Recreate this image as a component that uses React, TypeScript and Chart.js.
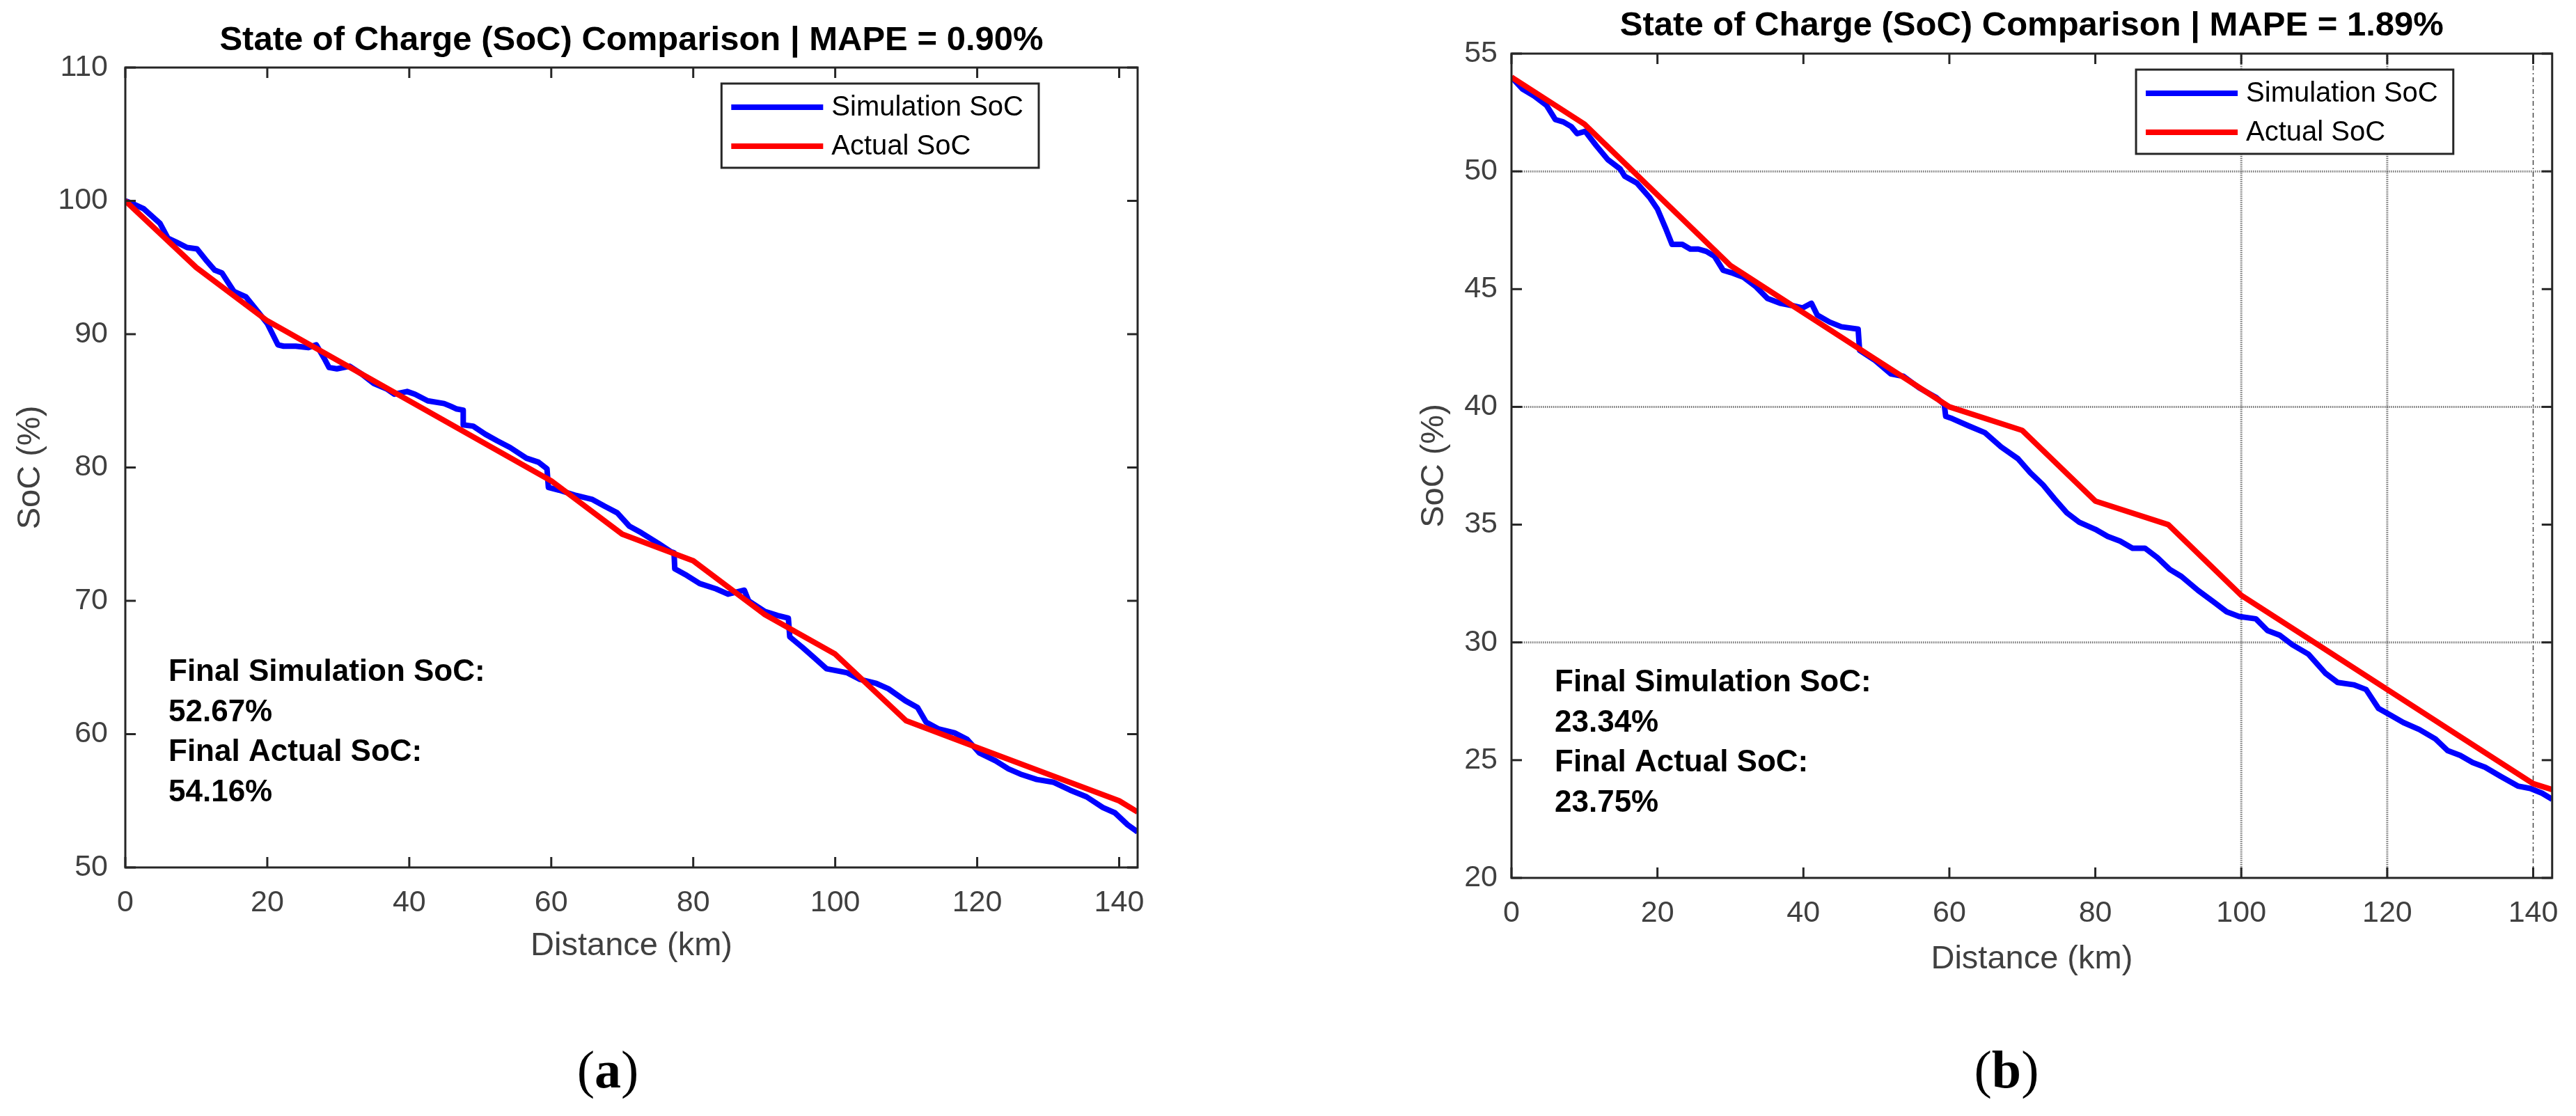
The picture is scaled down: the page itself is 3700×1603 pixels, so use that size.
import { useEffect, useRef } from 'react';
import { Chart, registerables } from 'chart.js';

Chart.register(...registerables);

const FONT = '"Liberation Sans", Arial, Helvetica, sans-serif';
const W = 1850;
const H = 1603;

// ---- (a) ----
const simDistA = [
  0, 1, 2.6, 4.9, 6, 7.2, 8.7, 10.1, 11.3, 12.6, 13.6, 15.3, 17, 18.8, 20, 21.5, 22.3, 24, 25.8, 26.9,
  28, 28.7, 29.8, 31.6, 33.3, 35, 36.8, 37.9, 39.7, 40.8, 42.6, 44.9, 45.8, 46.6, 47.6, 47.6, 49, 50.7,
  52.4, 54.2, 56.5, 58.2, 59.4, 59.6, 61.1, 63.5, 65.8, 67.5, 69.3, 71, 72.7, 75.1, 76.8, 77.3, 77.4,
  79.1, 80.9, 83.2, 84.9, 87.2, 87.8, 90.1, 91.9, 93.4, 93.6, 95.4, 97.1, 98.8, 101.7, 103.5, 105.8,
  107.5, 109.9, 111.6, 112.8, 114.5, 116.8, 118.6, 120.3, 122.6, 124.4, 126.1, 128.4, 130.7, 133.1,
  135.4, 137.7, 139.4, 141.2, 142.6,
];
const simSocA = [
  100, 99.8, 99.4, 98.3, 97.2, 96.9, 96.5, 96.4, 95.6, 94.8, 94.6, 93.2, 92.8, 91.6, 90.8, 89.2, 89.1,
  89.1, 89, 89.2, 88.2, 87.5, 87.4, 87.6, 87, 86.3, 85.9, 85.5, 85.7, 85.5, 85, 84.8, 84.6, 84.4, 84.3,
  83.2, 83.1, 82.5, 82, 81.5, 80.7, 80.4, 79.9, 78.5, 78.3, 77.9, 77.6, 77.1, 76.6, 75.6, 75.1, 74.3,
  73.7, 73.6, 72.4, 71.9, 71.3, 70.9, 70.5, 70.8, 70, 69.2, 68.9, 68.7, 67.3, 66.5, 65.7, 64.9, 64.6,
  64.1, 63.8, 63.4, 62.5, 62, 60.9, 60.4, 60.1, 59.6, 58.6, 58, 57.4, 57, 56.6, 56.4, 55.8, 55.3, 54.5,
  54.1, 53.2, 52.67,
];
const actDistA = [0, 10, 20, 30, 40, 50, 60, 70, 80, 90, 100, 110, 120, 130, 140, 142.6];
const actSocA = [100, 95, 91, 88, 85, 82, 79, 75, 73, 69, 66, 61, 59, 57, 55, 54.16];
const mapeA = '0.90';
const yTicksA = [50, 60, 70, 80, 90, 100, 110];

// ---- (b) ----
const simDistB = [
  0, 1.5, 3.1, 4.8, 6, 7.1, 8.2, 9, 10.1, 11.6, 13.2, 14.9, 15.5, 17.2, 18.9, 20, 21.1, 22, 23.4, 24.5,
  25.6, 26.7, 27.8, 29, 30.1, 31.8, 33.5, 35.1, 36.8, 38.5, 39.9, 41.1, 41.9, 43.6, 45.2, 47.5, 47.7,
  49.7, 52, 53.7, 55.9, 58.2, 59.3, 59.5, 60.4, 62.6, 64.9, 67.1, 69.4, 71.1, 72.8, 74.4, 76.1, 77.8,
  80, 81.7, 83.4, 85.1, 86.8, 88.5, 90.2, 91.8, 94.1, 96.3, 98, 99.7, 102, 103.6, 105.3, 107, 109.2,
  111.5, 113.2, 115.4, 117.1, 118.8, 120.5, 122.2, 124.4, 126.6, 128.3, 130, 131.7, 133.4, 135.6,
  137.9, 139.6, 141.2, 142.6,
];
const simSocB = [
  54, 53.5, 53.2, 52.8, 52.2, 52.1, 51.9, 51.6, 51.7, 51.1, 50.5, 50.1, 49.8, 49.5, 48.9, 48.4, 47.6,
  46.9, 46.9, 46.7, 46.7, 46.6, 46.4, 45.8, 45.7, 45.5, 45.1, 44.6, 44.4, 44.3, 44.2, 44.4, 43.9, 43.6,
  43.4, 43.3, 42.4, 42, 41.4, 41.3, 40.8, 40.4, 40.1, 39.6, 39.5, 39.2, 38.9, 38.3, 37.8, 37.2, 36.7,
  36.1, 35.5, 35.1, 34.8, 34.5, 34.3, 34, 34, 33.6, 33.1, 32.8, 32.2, 31.7, 31.3, 31.1, 31, 30.5, 30.3,
  29.9, 29.5, 28.7, 28.3, 28.2, 28, 27.2, 26.9, 26.6, 26.3, 25.9, 25.4, 25.2, 24.9, 24.7, 24.3, 23.9,
  23.8, 23.6, 23.34,
];
const actDistB = [0, 10, 20, 30, 40, 50, 60, 70, 80, 90, 100, 110, 120, 130, 140, 142.6];
const actSocB = [54, 52, 49, 46, 44, 42, 40, 39, 36, 35, 32, 30, 28, 26, 24, 23.75];
const mapeB = '1.89';
const yTicksB = [20, 25, 30, 35, 40, 45, 50, 55];
const gridYB = [30, 40, 50];
const gridXB = [100, 120];
const gridXThinB = [140];

const xTicks = [0, 20, 40, 60, 80, 100, 120, 140];
const xMax = 142.6;

// boxed axes with inward ticks, sparse grid, legend and text block
const matlabAxes = {
  id: 'matlabAxes',
  beforeDatasetsDraw(chart: any, _args: any, opts: any) {
    const { ctx, chartArea: a } = chart;
    const xs = chart.scales.x;
    const ys = chart.scales.y;
    const line = (x1: number, y1: number, x2: number, y2: number) => {
      ctx.beginPath();
      ctx.moveTo(x1, y1);
      ctx.lineTo(x2, y2);
      ctx.stroke();
    };
    ctx.save();
    ctx.strokeStyle = 'rgba(38,38,38,0.62)';
    ctx.lineWidth = 3;
    ctx.setLineDash([1.5, 1.5]);
    (opts.gridY || []).forEach((v: number) => {
      const p = ys.getPixelForValue(v);
      line(a.left, p, a.right, p);
    });
    (opts.gridX || []).forEach((v: number) => {
      const p = xs.getPixelForValue(v);
      line(p, a.top, p, a.bottom);
    });
    ctx.strokeStyle = 'rgba(38,38,38,0.85)';
    ctx.lineWidth = 1.5;
    ctx.setLineDash([7, 4, 2, 4]);
    (opts.gridXThin || []).forEach((v: number) => {
      const p = xs.getPixelForValue(v);
      line(p, a.top, p, a.bottom);
    });
    ctx.restore();
  },
  afterDatasetsDraw(chart: any, _args: any, opts: any) {
    const { ctx, chartArea: a } = chart;
    const xs = chart.scales.x;
    const ys = chart.scales.y;
    const line = (x1: number, y1: number, x2: number, y2: number) => {
      ctx.beginPath();
      ctx.moveTo(x1, y1);
      ctx.lineTo(x2, y2);
      ctx.stroke();
    };
    ctx.save();
    ctx.strokeStyle = '#262626';
    ctx.lineWidth = 3;
    ctx.setLineDash([]);
    const tl = 15;
    xs.ticks.forEach((t: any) => {
      const p = xs.getPixelForValue(t.value);
      line(p, a.bottom, p, a.bottom - tl);
      line(p, a.top, p, a.top + tl);
    });
    ys.ticks.forEach((t: any) => {
      const p = ys.getPixelForValue(t.value);
      line(a.left, p, a.left + tl, p);
      line(a.right, p, a.right - tl, p);
    });
    ctx.strokeRect(a.left, a.top, a.right - a.left, a.bottom - a.top);

    // legend
    const ds = chart.data.datasets;
    ctx.font = `40px ${FONT}`;
    const tw = Math.max(...ds.map((d: any) => ctx.measureText(d.label).width));
    const bw = 14 + 132 + 12 + tw + 22;
    const bh = 121;
    const bx = a.right - 142 - bw;
    const by = a.top + 23;
    ctx.fillStyle = '#ffffff';
    ctx.fillRect(bx, by, bw, bh);
    ctx.strokeRect(bx, by, bw, bh);
    ds.forEach((d: any, i: number) => {
      const cy = by + 34 + i * 56;
      ctx.strokeStyle = d.borderColor;
      ctx.lineWidth = 8;
      line(bx + 14, cy, bx + 146, cy);
      ctx.fillStyle = '#000000';
      ctx.textBaseline = 'middle';
      ctx.textAlign = 'left';
      ctx.fillText(d.label, bx + 158, cy + 1);
    });

    // final values text
    ctx.font = `bold 44px ${FONT}`;
    ctx.fillStyle = '#000000';
    ctx.textBaseline = 'middle';
    (opts.notes || []).forEach((s: string, i: number) => {
      ctx.fillText(s, a.left + 62, a.bottom - 280 + i * 57.5);
    });
    ctx.restore();
  },
};

interface PanelProps {
  left: number;
  area: { left: number; right: number; top: number; bottom: number };
  titleY: number;
  yTitleX: number;
  xTitleY: number;
  yTickPad: number;
  mape: string;
  simDist: number[];
  simSoc: number[];
  actDist: number[];
  actSoc: number[];
  yTicks: number[];
  gridY?: number[];
  gridX?: number[];
  gridXThin?: number[];
}

function SocPanel(p: PanelProps) {
  const canvasRef = useRef<HTMLCanvasElement | null>(null);

  useEffect(() => {
    if (!canvasRef.current) return;
    const titleLH = 49 * 1.2;
    const labelLH = 47 * 1.2;
    const lastSim = p.simSoc[p.simSoc.length - 1];
    const lastAct = p.actSoc[p.actSoc.length - 1];

    const chart = new Chart(canvasRef.current, {
      type: 'line',
      data: {
        datasets: [
          {
            label: 'Simulation SoC',
            data: p.simDist.map((x, i) => ({ x, y: p.simSoc[i] })),
            borderColor: '#0000ff',
            borderWidth: 8,
            pointRadius: 0,
            tension: 0,
            borderJoinStyle: 'round',
            order: 1,
          },
          {
            label: 'Actual SoC',
            data: p.actDist.map((x, i) => ({ x, y: p.actSoc[i] })),
            borderColor: '#ff0000',
            borderWidth: 8,
            pointRadius: 0,
            tension: 0,
            borderJoinStyle: 'round',
            order: 0,
          },
        ],
      },
      options: {
        responsive: false,
        animation: false,
        devicePixelRatio: 1,
        layout: { padding: { left: 0, top: 0, bottom: 0, right: W - p.area.right } },
        plugins: {
          legend: { display: false },
          tooltip: { enabled: false },
          title: {
            display: true,
            fullSize: false,
            text: `State of Charge (SoC) Comparison | MAPE = ${p.mape}%`,
            color: '#000000',
            font: { family: FONT, size: 49, weight: 'bold', lineHeight: 1.2 },
            padding: {
              top: p.titleY - titleLH / 2,
              bottom: p.area.top - p.titleY - titleLH / 2,
            },
          },
          matlabAxes: {
            gridY: p.gridY || [],
            gridX: p.gridX || [],
            gridXThin: p.gridXThin || [],
            notes: [
              'Final Simulation SoC:',
              `${lastSim.toFixed(2)}%`,
              'Final Actual SoC:',
              `${lastAct.toFixed(2)}%`,
            ],
          },
        } as any,
        scales: {
          x: {
            type: 'linear',
            min: 0,
            max: xMax,
            afterBuildTicks: (s: any) => {
              s.ticks = xTicks.map((v) => ({ value: v }));
            },
            afterFit: (s: any) => {
              s.height = H - p.area.bottom;
            },
            ticks: {
              font: { family: FONT, size: 43 },
              color: '#404040',
              padding: 25,
              maxRotation: 0,
              autoSkip: false,
            },
            grid: { display: false, drawTicks: false },
            border: { display: false },
            title: {
              display: true,
              text: 'Distance (km)',
              color: '#404040',
              font: { family: FONT, size: 47, lineHeight: 1.2 },
              padding: { top: 0, bottom: H - p.xTitleY - labelLH / 2 },
            },
          },
          y: {
            type: 'linear',
            min: p.yTicks[0],
            max: p.yTicks[p.yTicks.length - 1],
            afterBuildTicks: (s: any) => {
              s.ticks = p.yTicks.map((v) => ({ value: v }));
            },
            afterFit: (s: any) => {
              s.width = p.area.left;
            },
            ticks: {
              font: { family: FONT, size: 43 },
              color: '#404040',
              padding: p.yTickPad,
              autoSkip: false,
            },
            grid: { display: false, drawTicks: false },
            border: { display: false },
            title: {
              display: true,
              text: 'SoC (%)',
              color: '#404040',
              font: { family: FONT, size: 47, lineHeight: 1.2 },
              padding: { top: p.yTitleX - labelLH / 2, bottom: 0 },
            },
          },
        },
      },
      plugins: [matlabAxes as any],
    });

    return () => {
      chart.destroy();
    };
  }, [p]);

  return (
    <canvas
      ref={canvasRef}
      width={W}
      height={H}
      style={{ position: 'absolute', left: p.left, top: 0, width: W, height: H }}
    />
  );
}

const panelA: PanelProps = {
  left: 0,
  area: { left: 180, right: 1634, top: 97, bottom: 1246 },
  titleY: 58,
  yTitleX: 44,
  xTitleY: 1359,
  yTickPad: 25,
  mape: mapeA,
  simDist: simDistA,
  simSoc: simSocA,
  actDist: actDistA,
  actSoc: actSocA,
  yTicks: yTicksA,
};

const panelB: PanelProps = {
  left: W,
  area: { left: 321, right: 1819, top: 77, bottom: 1261 },
  titleY: 37,
  yTitleX: 210,
  xTitleY: 1378,
  yTickPad: 20,
  mape: mapeB,
  simDist: simDistB,
  simSoc: simSocB,
  actDist: actDistB,
  actSoc: actSocB,
  yTicks: yTicksB,
  gridY: gridYB,
  gridX: gridXB,
  gridXThin: gridXThinB,
};

const captionStyle = {
  position: 'absolute' as const,
  top: 1536,
  transform: 'translate(-50%, -50%)',
  font: '76px "Liberation Serif", "Times New Roman", serif',
  color: '#000',
  whiteSpace: 'nowrap' as const,
};

export default function App() {
  return (
    <div style={{ position: 'absolute', left: 0, top: 0, width: 3700, height: 1603, background: '#fff' }}>
      <SocPanel {...panelA} />
      <SocPanel {...panelB} />
      <div style={{ ...captionStyle, left: 873 }}>
        (<b>a</b>)
      </div>
      <div style={{ ...captionStyle, left: 2882 }}>
        (<b>b</b>)
      </div>
    </div>
  );
}
